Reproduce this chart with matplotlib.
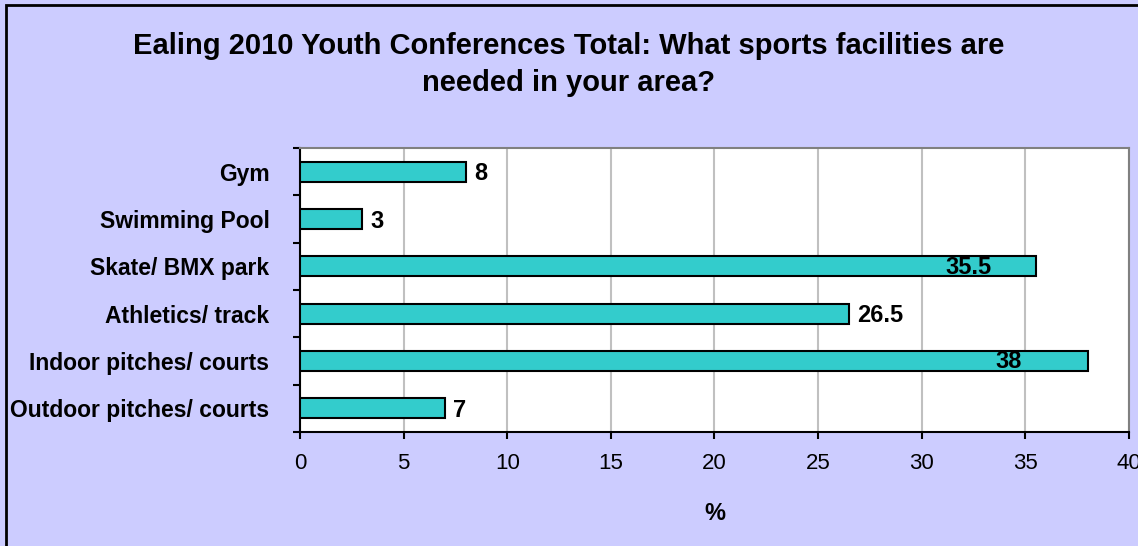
import matplotlib
matplotlib.use("Agg")
import matplotlib.pyplot as plt
import numpy as np

plt.rcParams['font.family'] = ['Liberation Sans', 'DejaVu Sans']

facilities = ["Outdoor pitches/ courts", "Indoor pitches/ courts", "Athletics/ track",
              "Skate/ BMX park", "Swimming Pool", "Gym"]
percent = [7, 38, 26.5, 35.5, 3, 8]
x_ticks = [0, 5, 10, 15, 20, 25, 30, 35, 40]

fig = plt.figure(figsize=(11.38, 5.46), dpi=100, facecolor='#CCCCFF')
ax = fig.add_axes([0.2636, 0.2088, 0.7285, 0.5201])
ax.set_facecolor('white')

# outer frame of the chart area
fig.patches.append(plt.Rectangle((6 / 1138, -0.1), 1.2, 1 - 5 / 546 + 0.1,
                                 transform=fig.transFigure, fill=False,
                                 edgecolor='black', linewidth=2))

y = np.arange(len(facilities))
ax.barh(y, percent, height=0.42, color='#33CCCC', edgecolor='black', linewidth=1.5, zorder=3)

# long bars get their labels pulled back inside the bar
inside_shift = {35.5: -67, 38: -79}
for yi, v in zip(y, percent):
    txt = f"{v:g}"
    if v in inside_shift:
        ax.annotate(txt, (v, yi), xytext=(inside_shift[v] * 0.72, -0.5), textcoords='offset points',
                    ha='center', va='center', fontsize=17, fontweight='bold', zorder=4)
    else:
        ax.annotate(txt, (v, yi), xytext=(6, -1.5), textcoords='offset points',
                    ha='left', va='center', fontsize=17, fontweight='bold', zorder=4)

ax.set_xlim(0, 40)
ax.set_ylim(-0.5, len(facilities) - 0.5)
ax.set_xticks(x_ticks)
ax.set_xticklabels([str(t) for t in x_ticks], fontsize=16)
ax.set_yticks(y)
ax.set_yticklabels(facilities, fontsize=16.5, fontweight='bold')
ax.set_yticks(np.arange(-0.5, len(facilities)), minor=True)
ax.tick_params(axis='y', which='major', length=0, pad=22)
ax.tick_params(axis='y', which='minor', length=5, width=1.5, direction='out')
ax.tick_params(axis='x', length=5, width=1.5, direction='out', pad=10)

ax.grid(axis='x', color='#C0C0C0', linewidth=1.5, zorder=0)
for s in ['left', 'bottom']:
    ax.spines[s].set_color('black')
    ax.spines[s].set_linewidth(1.5)
for s in ['top', 'right']:
    ax.spines[s].set_color('#808080')
    ax.spines[s].set_linewidth(1.5)

ax.set_xlabel('%', fontsize=17, fontweight='bold', labelpad=20)
fig.text(0.5, 0.882, "Ealing 2010 Youth Conferences Total: What sports facilities are\nneeded in your area?",
         ha='center', va='center', fontsize=21, fontweight='bold', linespacing=1.4)

fig.savefig('out.png', dpi=100, facecolor=fig.get_facecolor())
